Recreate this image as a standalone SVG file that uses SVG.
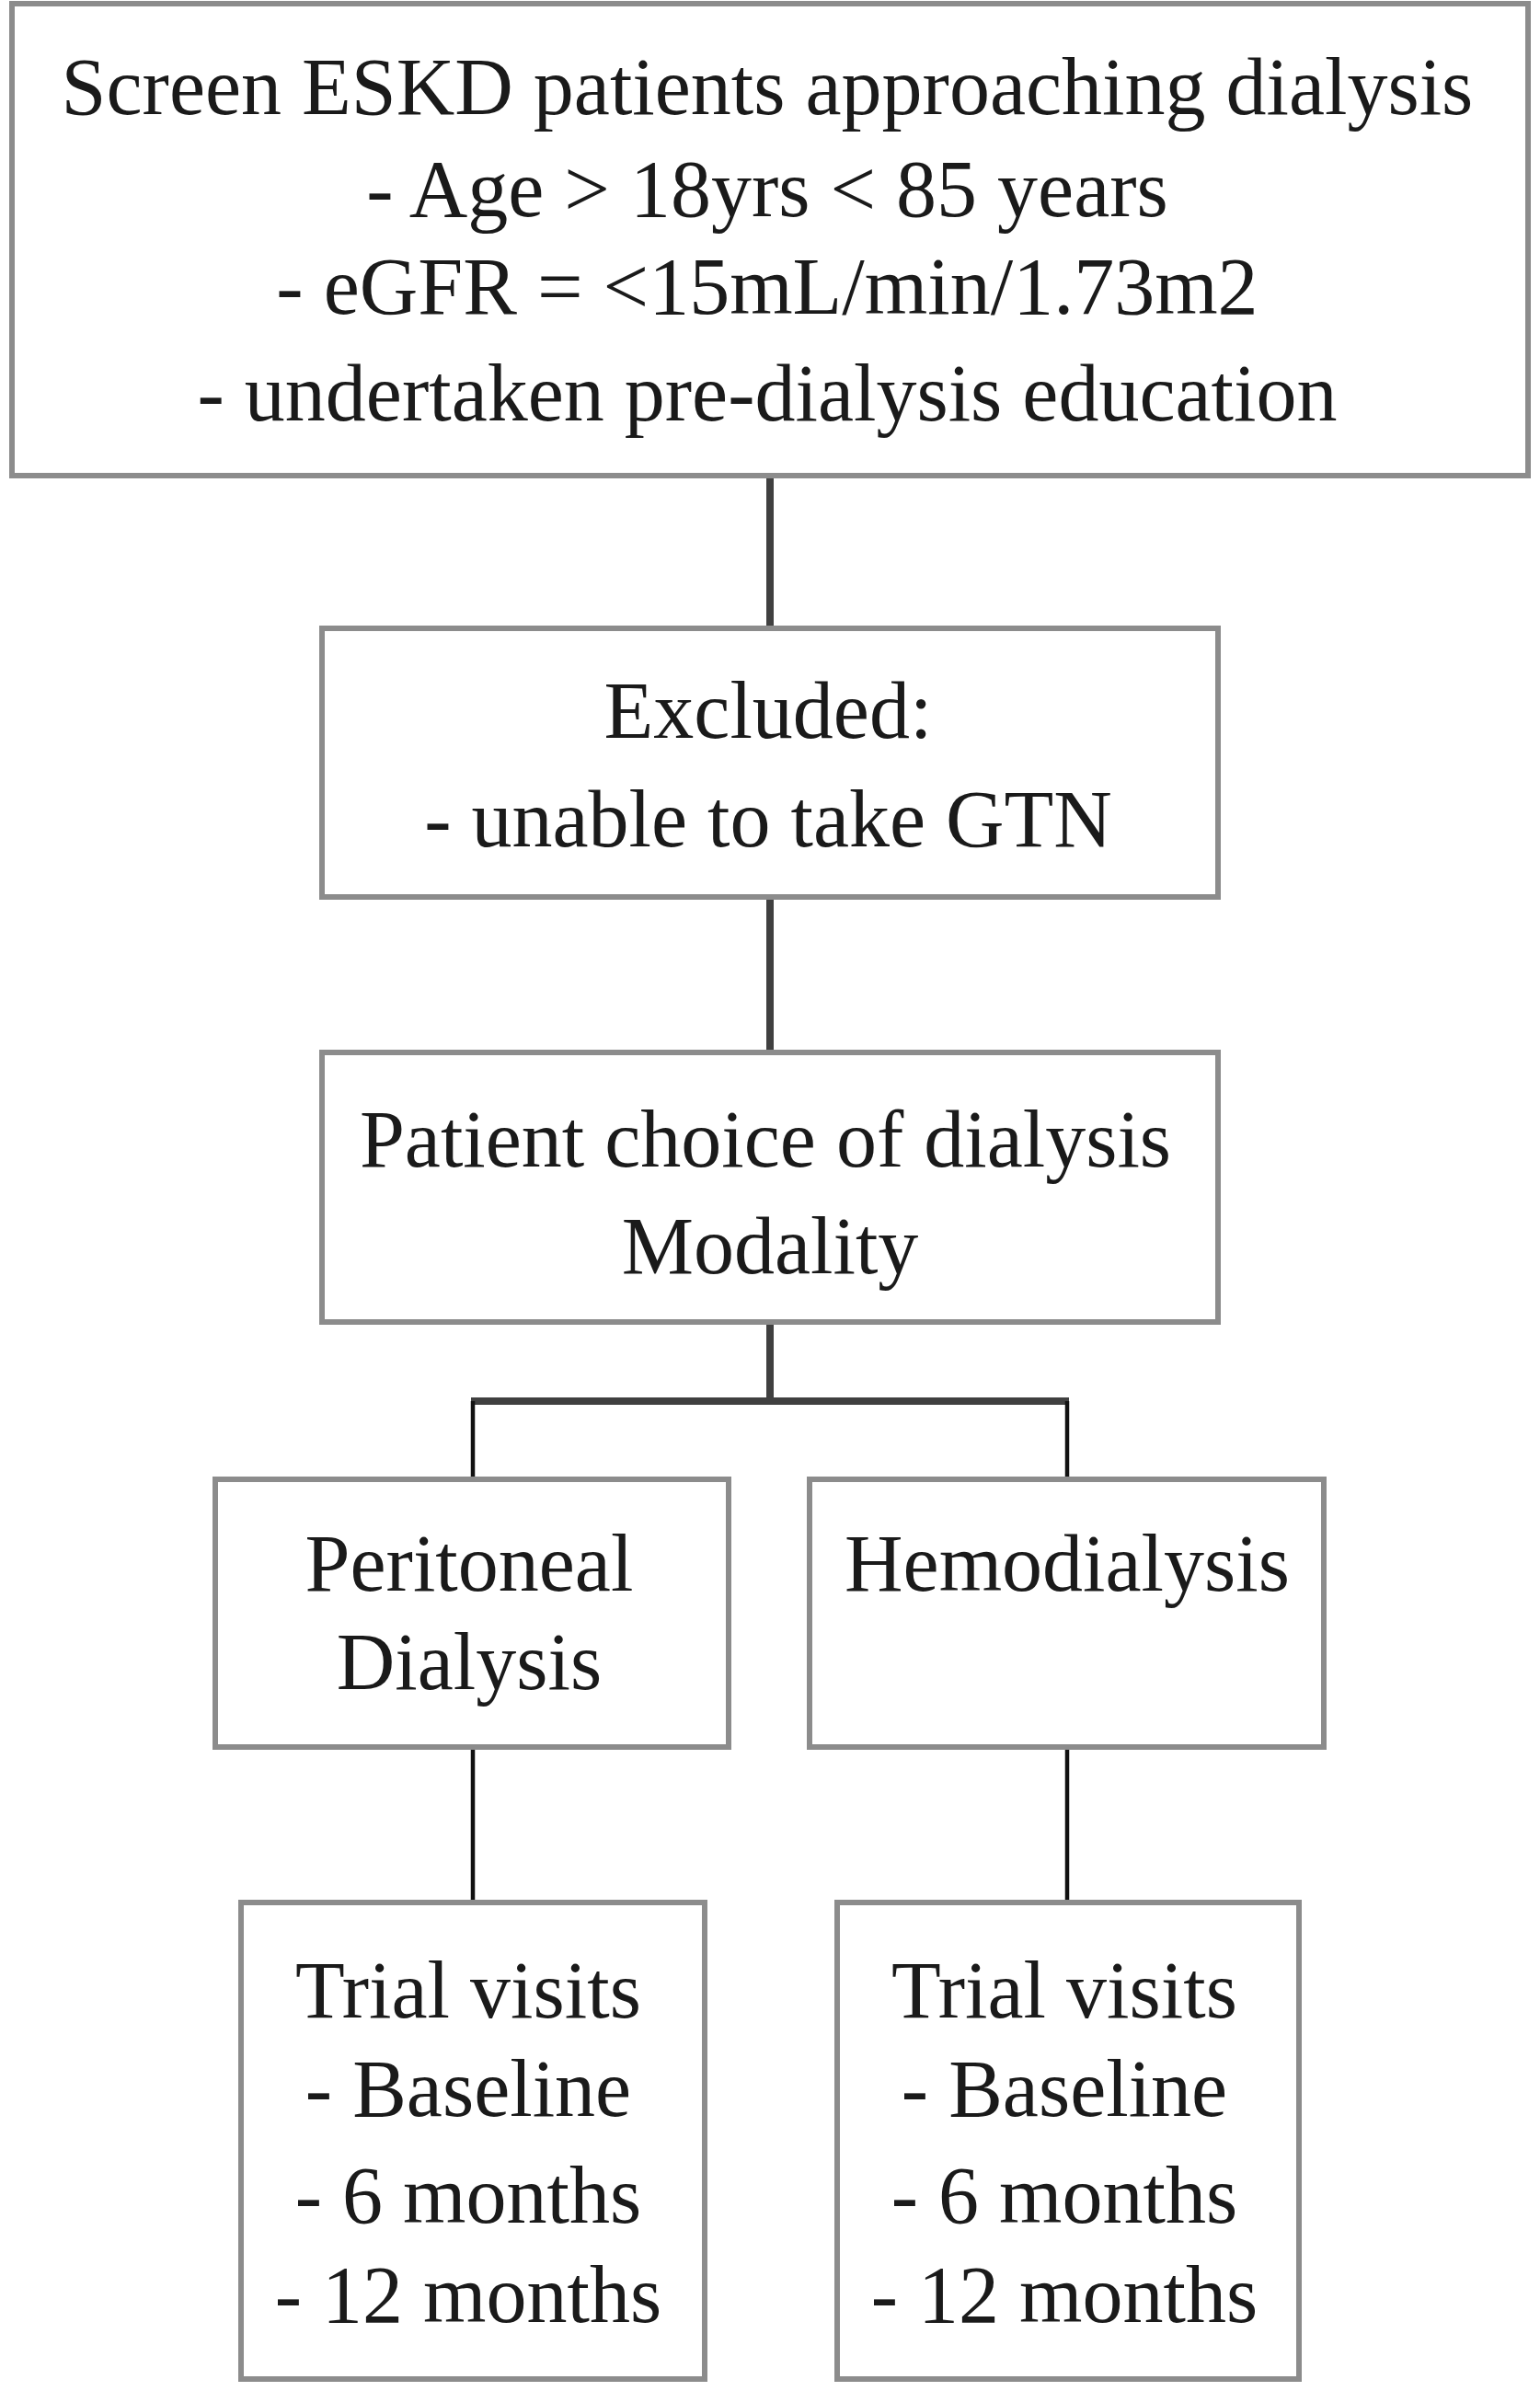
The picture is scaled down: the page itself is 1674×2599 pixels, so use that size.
<svg xmlns="http://www.w3.org/2000/svg" width="1674" height="2599" viewBox="0 0 1674 2599">
<style>
.box{fill:#ffffff;stroke:#8c8c8c;stroke-width:6}
.t{font-family:"Liberation Serif","Times New Roman",serif;font-size:88px;fill:#1a1a1a;text-anchor:middle}
.c1{stroke:#404040;stroke-width:8;fill:none}
.c2{stroke:#111111;stroke-width:4.5;fill:none}
</style>
<rect width="1674" height="2599" fill="#ffffff"/>
<g id="connectors">
<line class="c1" x1="837" y1="517" x2="837" y2="683"/>
<line class="c1" x1="837" y1="975" x2="837" y2="1144"/>
<line class="c1" x1="837" y1="1437" x2="837" y2="1523"/>
<line class="c1" x1="512" y1="1523" x2="1162" y2="1523"/>
<line class="c2" x1="514" y1="1523" x2="514" y2="1608"/>
<line class="c2" x1="1160" y1="1523" x2="1160" y2="1608"/>
<line class="c2" x1="514" y1="1899" x2="514" y2="2068"/>
<line class="c2" x1="1160" y1="1899" x2="1160" y2="2068"/>
</g>
<g id="screen">
<rect class="box" x="13" y="4" width="1648" height="513"/>
<text class="t" x="834" y="124">Screen ESKD patients approaching dialysis</text>
<text class="t" x="834" y="235">- Age &gt; 18yrs &lt; 85 years</text>
<text class="t" x="834" y="341">- eGFR = &lt;15mL/min/1.73m2</text>
<text class="t" x="834" y="457">- undertaken pre-dialysis education</text>
</g>
<g id="excluded">
<rect class="box" x="350" y="683" width="974" height="292"/>
<text class="t" x="835" y="802">Excluded:</text>
<text class="t" x="835" y="920">- unable to take GTN</text>
</g>
<g id="choice">
<rect class="box" x="350" y="1144" width="974" height="293"/>
<text class="t" x="832" y="1268">Patient choice of dialysis</text>
<text class="t" x="837" y="1384">Modality</text>
</g>
<g id="pd">
<rect class="box" x="234" y="1608" width="558" height="291"/>
<text class="t" x="510" y="1729">Peritoneal</text>
<text class="t" x="510" y="1836">Dialysis</text>
</g>
<g id="hd">
<rect class="box" x="880" y="1608" width="559" height="291"/>
<text class="t" x="1160" y="1729">Hemodialysis</text>
</g>
<g id="trial-pd">
<rect class="box" x="262" y="2068" width="504" height="518"/>
<text class="t" x="509" y="2193">Trial visits</text>
<text class="t" x="509" y="2300">- Baseline</text>
<text class="t" x="509" y="2416">- 6 months</text>
<text class="t" x="509" y="2524">- 12 months</text>
</g>
<g id="trial-hd">
<rect class="box" x="910" y="2068" width="502" height="518"/>
<text class="t" x="1157" y="2193">Trial visits</text>
<text class="t" x="1157" y="2300">- Baseline</text>
<text class="t" x="1157" y="2416">- 6 months</text>
<text class="t" x="1157" y="2524">- 12 months</text>
</g>
</svg>
